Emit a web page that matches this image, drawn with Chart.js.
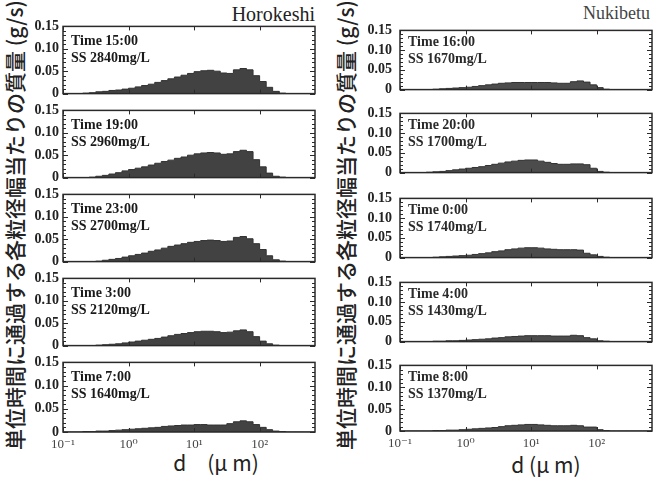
<!DOCTYPE html>
<html><head><meta charset="utf-8">
<script src="https://cdn.jsdelivr.net/npm/chart.js@4.4.1/dist/chart.umd.min.js"></script>
<style>
html,body{margin:0;padding:0;background:#fff;width:660px;height:479px;overflow:hidden;position:relative}
canvas{position:absolute}
.t{position:absolute;white-space:nowrap;color:#222;line-height:1}
.serif{font-family:'Liberation Serif','DejaVu Serif',serif}
.jp{font-family:'Noto Sans CJK JP','Noto Sans',sans-serif}
</style></head><body>

<div class="t serif" style="right:345px;top:4px;font-size:20px;">Horokeshi</div>
<div class="t serif" style="right:10px;top:4px;font-size:18px;color:#444;">Nukibetu</div>
<div class="t jp" style="left:-209px;top:213px;width:450px;height:24px;text-align:center;font-size:21px;font-weight:500;transform:rotate(-90deg);">単位時間に通過する各粒径幅当たりの質量 (g/s)</div>
<div class="t jp" style="left:122px;top:213px;width:450px;height:24px;text-align:center;font-size:21px;font-weight:500;transform:rotate(-90deg);">単位時間に通過する各粒径幅当たりの質量 (g/s)</div>
<div class="t jp" style="left:116px;top:452px;width:200px;text-align:center;font-size:21px;">d　(μ m)</div>
<div class="t jp" style="left:446px;top:454px;width:200px;text-align:center;font-size:21px;">d (μ m)</div>

<script>
// bin lower edges (µm), 0.1-decade bins
const binEdges = [0.1,0.126,0.158,0.2,0.251,0.316,0.398,0.501,0.631,0.794,
  1,1.26,1.58,2.0,2.51,3.16,3.98,5.01,6.31,7.94,
  10,12.6,15.8,20,25.1,31.6,39.8,50.1,63.1,79.4,
  100,126,158,200,251,316,398,501,631];
const xMax = 700;
const xTickValues = [0.1, 1, 10, 100];
const xTickLabels = ['10⁻¹', '10⁰', '10¹', '10²'];
const yTickValues = [0, 0.05, 0.10, 0.15];
const yTickLabels = ['0', '0.05', '0.10', '0.15'];

// Horokeshi
const horoTimes = ['15:00', '19:00', '23:00', '3:00', '7:00'];
const horoSS = [2840, 2960, 2700, 2120, 1640];
const horo1500 = [0,0,0,0,0.001, 0.002,0.004,0.005,0.007,0.008, 0.010,0.012,0.015,0.018,0.021, 0.025,0.029,0.033,0.037,0.041, 0.045,0.049,0.051,0.052,0.050, 0.046,0.045,0.053,0.056,0.053, 0.040,0.027,0.014,0.005,0.001, 0,0,0,0];
const horo1900 = [0,0,0,0,0, 0.001,0.003,0.005,0.008,0.011, 0.015,0.018,0.021,0.024,0.028, 0.032,0.036,0.039,0.043,0.046, 0.050,0.053,0.055,0.056,0.055, 0.052,0.053,0.058,0.061,0.058, 0.040,0.024,0.010,0.003,0.001, 0,0,0,0];
const horo2300 = [0,0,0,0,0, 0,0.001,0.003,0.005,0.007, 0.010,0.013,0.016,0.019,0.023, 0.026,0.030,0.034,0.037,0.040, 0.043,0.045,0.047,0.048,0.047, 0.045,0.046,0.054,0.056,0.051, 0.040,0.027,0.013,0.004,0.001, 0,0,0,0];
const horo0300 = [0,0,0,0,0, 0,0.001,0.002,0.003,0.004, 0.006,0.008,0.010,0.012,0.014, 0.016,0.019,0.022,0.025,0.027, 0.029,0.031,0.032,0.032,0.031, 0.029,0.030,0.033,0.035,0.031, 0.020,0.010,0.004,0.001,0, 0,0,0,0];
const horo0700 = [0,0,0,0,0.001, 0.001,0.002,0.002,0.003,0.004, 0.005,0.006,0.007,0.008,0.009, 0.010,0.012,0.013,0.014,0.015, 0.015,0.016,0.016,0.015,0.015, 0.015,0.018,0.022,0.024,0.022, 0.016,0.010,0.005,0.002,0.001, 0,0,0,0];

// Nukibetu
const nukiTimes = ['16:00', '20:00', '0:00', '4:00', '8:00'];
const nukiSS = [1670, 1700, 1740, 1430, 1370];
const nuki1600 = [0,0,0,0,0, 0,0.001,0.002,0.003,0.004, 0.005,0.006,0.008,0.010,0.012, 0.014,0.016,0.017,0.018,0.018, 0.018,0.018,0.018,0.018,0.017, 0.016,0.016,0.020,0.022,0.019, 0.012,0.005,0.001,0,0, 0,0,0,0];
const nuki2000 = [0,0,0,0,0, 0.001,0.002,0.003,0.005,0.007, 0.009,0.011,0.013,0.015,0.018, 0.021,0.024,0.027,0.029,0.031, 0.032,0.032,0.029,0.026,0.023, 0.021,0.021,0.022,0.022,0.020, 0.011,0.003,0.001,0,0, 0,0,0,0];
const nuki0000 = [0,0,0,0,0, 0,0.001,0.002,0.003,0.004, 0.005,0.006,0.008,0.010,0.012, 0.015,0.017,0.020,0.022,0.024, 0.025,0.025,0.024,0.022,0.021, 0.020,0.020,0.020,0.019,0.011, 0.007,0.003,0.001,0,0, 0,0,0,0];
const nuki0400 = [0,0,0,0,0, 0,0.001,0.001,0.002,0.002, 0.003,0.004,0.005,0.006,0.007, 0.009,0.010,0.012,0.013,0.014, 0.015,0.015,0.015,0.015,0.014, 0.014,0.014,0.016,0.015,0.010, 0.007,0.002,0.001,0,0, 0,0,0,0];
const nuki0800 = [0,0,0,0,0, 0,0.001,0.001,0.002,0.002, 0.003,0.004,0.005,0.006,0.007, 0.008,0.010,0.012,0.013,0.014, 0.015,0.015,0.014,0.013,0.012, 0.012,0.012,0.013,0.012,0.009, 0.009,0.003,0.001,0,0, 0,0,0,0];

const horoSeries = [horo1500, horo1900, horo2300, horo0300, horo0700];
const nukiSeries = [nuki1600, nuki2000, nuki0000, nuki0400, nuki0800];

const PH = 72;
const leftTops = [24, 108, 192, 276, 360];
const rightTops = [24, 107, 192, 276, 359];
const SERIF = "'Liberation Serif', 'DejaVu Serif', serif";

const framePlugin = {
  id: 'frame',
  afterDraw(chart, args, o) {
    const {ctx, chartArea: a, scales: {x, y}} = chart;
    ctx.save();
    ctx.strokeStyle = '#2a2a2a';
    ctx.lineWidth = 1.5;
    ctx.strokeRect(a.left, a.top, a.right - a.left, a.bottom - a.top);
    ctx.lineWidth = 1;
    for (let k = 0; k <= 15; k++) {
      const py = Math.round(y.getPixelForValue(k / 100)) + 0.5;
      const len = k % 5 === 0 ? 5 : 3;
      ctx.beginPath();
      ctx.moveTo(a.left, py); ctx.lineTo(a.left + len, py);
      ctx.moveTo(a.right, py); ctx.lineTo(a.right - len, py);
      ctx.stroke();
    }
    for (const v of xTickValues) {
      const px = Math.round(x.getPixelForValue(v)) + 0.5;
      ctx.beginPath();
      ctx.moveTo(px, a.bottom); ctx.lineTo(px, a.bottom - 4);
      ctx.moveTo(px, a.top); ctx.lineTo(px, a.top + 4);
      ctx.stroke();
    }
    ctx.fillStyle = o.color;
    ctx.font = 'bold 14px ' + SERIF;
    ctx.textBaseline = 'alphabetic';
    ctx.fillText('Time ' + o.time, a.left + 8, a.top + o.dy1);
    ctx.fillText('SS ' + o.ss + 'mg/L', a.left + 8, a.top + o.dy2);
    ctx.restore();
  }
};

function makePanel(vals, time, ss, plotLeft, plotTop, plotW, bottomAxis, col) {
  const padL = 50, padR = 6, padT = 10, padB = bottomAxis ? 26 : 10;
  const c = document.createElement('canvas');
  const W = plotW + padL + padR, H = PH + padT + padB;
  c.width = W; c.height = H;
  c.style.width = W + 'px'; c.style.height = H + 'px';
  c.style.left = (plotLeft - padL) + 'px';
  c.style.top = (plotTop - padT) + 'px';
  document.body.appendChild(c);
  const pts = binEdges.map((e, i) => ({x: e, y: vals[i]}));
  pts.push({x: xMax, y: 0});
  new Chart(c, {
    type: 'line',
    data: {datasets: [{
      data: pts, stepped: 'after', fill: 'origin',
      backgroundColor: col === 0 ? '#424242' : '#4c4c4c',
      borderColor: '#333', borderWidth: 1, pointRadius: 0
    }]},
    options: {
      responsive: false, animation: false, devicePixelRatio: 1,
      layout: {padding: {top: padT, right: padR, left: 0, bottom: 0}},
      plugins: {
        legend: {display: false}, tooltip: {enabled: false},
        frame: {time: time, ss: ss, dy1: col === 0 ? 19 : 16, dy2: col === 0 ? 36 : 33, color: col === 0 ? '#1a1a1a' : '#2a2a2a'}
      },
      scales: {
        x: {
          type: 'logarithmic', min: 0.1, max: xMax,
          grid: {display: false, drawTicks: false}, border: {display: false},
          afterBuildTicks: s => { s.ticks = xTickValues.map(v => ({value: v})); },
          afterFit: s => { s.height = padB; },
          ticks: {display: bottomAxis, autoSkip: false, maxRotation: 0, minRotation: 0, padding: 5,
            font: {family: SERIF, size: 13}, color: '#444',
            callback: (v, i) => xTickLabels[i]}
        },
        y: {
          min: 0, max: 0.15,
          grid: {display: false, drawTicks: false}, border: {display: false},
          afterBuildTicks: s => { s.ticks = yTickValues.map(v => ({value: v})); },
          afterFit: s => { s.width = padL; },
          ticks: {padding: col === 0 ? 4 : 8, autoSkip: false,
            font: {family: SERIF, size: 14, weight: 'bold'}, color: '#222',
            callback: (v, i) => yTickLabels[i]}
        }
      }
    },
    plugins: [framePlugin]
  });
}

for (let i = 0; i < 5; i++) {
  makePanel(horoSeries[i], horoTimes[i], horoSS[i], 63, leftTops[i], 252, i === 4, 0);
  makePanel(nukiSeries[i], nukiTimes[i], nukiSS[i], 400, rightTops[i], 252, i === 4, 1);
}
</script>
</body></html>
